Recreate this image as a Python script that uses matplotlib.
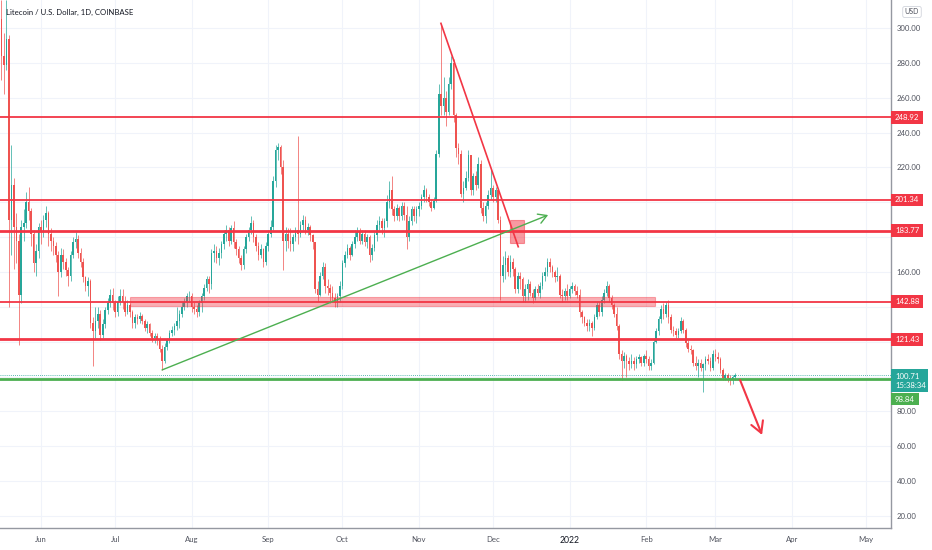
import matplotlib
matplotlib.use("Agg")
import numpy as np
import matplotlib.pyplot as plt
from matplotlib.patches import Rectangle
from matplotlib.transforms import blended_transform_factory

plt.rcParams['font.family'] = ['Lato', 'DejaVu Sans']

# days are counted from 1 Jun 2021; first candle is 16 May 2021
FIRST_DAY = -16
FIRST_OPEN = 305.0

# daily closes / highs / lows, one list per month
may_c = [284, 279, 294, 190, 210, 186, 178, 147, 186, 188, 200, 195, 182, 165, 172, 186]
may_h = [316, 297, 316, 296, 233, 214, 194, 182, 190, 196, 206, 209, 197, 184, 176, 188]
may_l = [270, 262, 276, 140, 170, 162, 165, 118, 142, 178, 185, 190, 175, 160, 158, 168]

jun_c = [183, 190, 194, 182, 178, 175, 170, 160, 170, 166, 161, 158, 170, 177, 179,
         171, 166, 157, 152, 155, 131, 126, 132, 136, 124, 130, 138, 142, 147, 142]
jun_h = [190, 193, 198, 195, 185, 180, 177, 172, 174, 173, 168, 163, 172, 180, 183,
         181, 174, 168, 158, 157, 156, 134, 140, 140, 138, 133, 140, 145, 150, 151]
jun_l = [176, 180, 186, 175, 172, 170, 166, 146, 157, 162, 158, 152, 155, 168, 174,
         168, 163, 154, 149, 146, 128, 106, 122, 128, 121, 122, 128, 136, 140, 138]

jul_c = [137, 143, 146, 143, 137, 141, 137, 131, 134, 133, 135, 132, 128, 130, 125, 122,
         123, 121, 116, 109, 117, 121, 125, 127, 129, 132, 136, 140, 143, 146, 146]
jul_h = [144, 146, 150, 150, 146, 144, 142, 138, 136, 136, 137, 136, 133, 132, 131, 127,
         125, 125, 123, 118, 119, 122, 127, 129, 131, 140, 138, 143, 145, 148, 149]
jul_l = [134, 135, 141, 139, 135, 136, 134, 128, 128, 130, 131, 130, 126, 125, 123, 120,
         119, 118, 114, 104, 108, 115, 119, 123, 124, 127, 128, 134, 138, 140, 143]

aug_c = [140, 139, 137, 142, 146, 151, 156, 153, 171, 172, 168, 171, 176, 182, 184, 178,
         185, 177, 173, 168, 164, 173, 180, 184, 188, 180, 175, 170, 173, 166, 175]
aug_h = [148, 143, 141, 144, 148, 153, 158, 158, 173, 176, 175, 174, 178, 184, 187, 186,
         187, 189, 179, 175, 170, 175, 182, 186, 192, 190, 182, 177, 176, 174, 177]
aug_l = [137, 136, 134, 135, 137, 144, 149, 148, 150, 166, 165, 164, 168, 173, 178, 175,
         176, 174, 170, 165, 161, 162, 171, 178, 182, 177, 172, 167, 168, 163, 164]

sep_c = [182, 186, 212, 230, 232, 220, 178, 182, 178, 176, 180, 184, 182, 187, 190,
         184, 186, 181, 177, 150, 147, 158, 163, 152, 151, 148, 145, 143, 146, 152]
sep_h = [184, 190, 215, 233, 234, 233, 224, 186, 185, 185, 182, 186, 238, 189, 193,
         192, 188, 187, 182, 177, 155, 160, 166, 165, 156, 153, 152, 148, 148, 155]
sep_l = [172, 180, 184, 209, 224, 216, 161, 172, 174, 172, 172, 178, 176, 180, 184,
         182, 181, 178, 173, 148, 143, 146, 156, 148, 147, 142, 143, 140, 140, 143]

oct_c = [165, 170, 174, 170, 176, 180, 183, 178, 182, 177, 180, 170, 174, 181, 187, 189,
         185, 189, 200, 207, 196, 192, 197, 192, 198, 193, 180, 189, 196, 192, 196]
oct_h = [167, 172, 176, 175, 178, 184, 186, 185, 184, 184, 182, 181, 176, 183, 190, 192,
         191, 191, 204, 212, 215, 198, 199, 198, 200, 200, 198, 192, 198, 198, 198]
oct_l = [150, 163, 168, 167, 169, 174, 178, 176, 176, 175, 174, 166, 167, 172, 178, 184,
         182, 180, 186, 197, 193, 189, 190, 189, 190, 190, 173, 178, 187, 189, 188]

nov_c = [198, 203, 207, 203, 200, 197, 201, 228, 262, 255, 260, 252, 268, 280, 250,
         231, 228, 205, 208, 214, 227, 207, 215, 210, 222, 197, 192, 198, 204, 208]
nov_h = [200, 205, 210, 208, 205, 202, 203, 230, 268, 302, 272, 264, 272, 284, 282,
         251, 234, 230, 212, 218, 230, 222, 217, 218, 226, 224, 200, 200, 207, 219]
nov_l = [192, 196, 200, 200, 198, 195, 196, 200, 226, 250, 250, 244, 250, 265, 246,
         226, 222, 203, 200, 207, 212, 204, 204, 207, 208, 194, 189, 188, 196, 202]

dec_c = [203, 207, 190, 158, 164, 168, 160, 166, 162, 150, 158, 156, 146, 150, 153, 148,
         145, 150, 148, 152, 158, 160, 166, 163, 160, 157, 158, 147, 146, 149, 146]
dec_h = [210, 209, 207, 192, 169, 172, 170, 170, 168, 163, 160, 160, 157, 153, 156, 155,
         150, 152, 153, 154, 160, 163, 168, 168, 164, 161, 163, 159, 150, 151, 153]
dec_l = [200, 200, 188, 144, 154, 156, 158, 157, 158, 148, 148, 150, 143, 143, 144, 146,
         142, 144, 146, 145, 150, 155, 158, 160, 157, 154, 155, 145, 143, 144, 144]

jan_c = [150, 152, 149, 147, 137, 134, 131, 129, 131, 128, 134, 141, 137, 144, 148, 152,
         145, 141, 136, 129, 113, 109, 112, 109, 107, 109, 107, 110, 111, 108, 112]
jan_h = [152, 154, 153, 152, 150, 138, 135, 133, 133, 132, 136, 143, 143, 146, 150, 155,
         153, 147, 142, 140, 130, 115, 114, 113, 111, 113, 111, 112, 113, 112, 113]
jan_l = [145, 148, 147, 145, 134, 131, 129, 126, 126, 123, 127, 133, 135, 135, 142, 146,
         143, 139, 134, 127, 110, 98, 105, 100, 104, 105, 104, 105, 108, 106, 106]

feb_c = [110, 106, 108, 120, 126, 133, 139, 136, 141, 134, 127, 126, 124, 126,
         132, 127, 119, 116, 115, 108, 106, 108, 105, 107, 110, 109, 105, 113]
feb_h = [115, 112, 110, 122, 128, 135, 141, 142, 143, 144, 136, 129, 128, 128,
         134, 133, 128, 121, 118, 116, 112, 110, 110, 108, 112, 113, 111, 115]
feb_l = [108, 104, 104, 107, 119, 124, 131, 133, 134, 131, 125, 123, 122, 122,
         125, 125, 117, 114, 113, 106, 104, 100, 103, 91, 104, 107, 103, 104]

mar_c = [111, 110, 104, 99, 101, 99, 98, 100, 100.71]
mar_h = [116, 114, 111, 105, 102, 102, 101, 101, 102]
mar_l = [109, 108, 102, 98, 98, 97, 95, 96, 98]

# drawn levels
levels = [248.92, 201.34, 183.77, 142.88, 121.43]
level_widths = [1.3, 1.3, 2.0, 1.3, 2.0]
support = 98.84
last_price = 100.71
last_time = "15:38:34"

price_ticks = list(range(20, 301, 20))
hidden_ticks = [100, 120, 140, 180, 200]  # covered by the level labels
month_days = [0, 30, 61, 92, 122, 153, 183, 214, 245, 273, 304, 334]
month_names = ["Jun", "Jul", "Aug", "Sep", "Oct", "Nov", "Dec", "2022", "Feb", "Mar", "Apr", "May"]

closes = np.array(may_c + jun_c + jul_c + aug_c + sep_c + oct_c + nov_c + dec_c + jan_c + feb_c + mar_c, float)
highs = np.array(may_h + jun_h + jul_h + aug_h + sep_h + oct_h + nov_h + dec_h + jan_h + feb_h + mar_h, float)
lows = np.array(may_l + jun_l + jul_l + aug_l + sep_l + oct_l + nov_l + dec_l + jan_l + feb_l + mar_l, float)
opens = np.concatenate([[FIRST_OPEN], closes[:-1]])
days = np.arange(FIRST_DAY, FIRST_DAY + len(closes))

UP = '#26a69a'
DOWN = '#ef5350'
RED = '#f23645'
GREEN = '#4caf50'
FS = 5.6

fig = plt.figure(figsize=(9.32, 5.5), dpi=100)
ax = fig.add_axes([0, 22 / 550, 891 / 932, 528 / 550])
ax.set_xlim(-16.6, 344.1)
ax.set_ylim(13.1, 316.1)

# grid
ax.set_yticks(price_ticks)
ax.set_yticklabels(["" if p in hidden_ticks else "%.2f" % p for p in price_ticks])
ax.set_xticks(month_days)
ax.set_xticklabels(month_names)
ax.grid(True, color='#f0f3fa', lw=0.8)
ax.set_axisbelow(True)
ax.yaxis.tick_right()
ax.tick_params(axis='both', length=0, labelsize=FS, labelcolor='#50535e')
ax.tick_params(axis='y', pad=4)
ax.tick_params(axis='x', pad=6)
for lab in ax.get_xticklabels():
    if lab.get_text() == "2022":
        lab.set_color('#131722')
        lab.set_fontsize(6.2)
for s in ['left', 'top']:
    ax.spines[s].set_visible(False)
for s in ['right', 'bottom']:
    ax.spines[s].set_color('#9598a1')
    ax.spines[s].set_linewidth(1.0)

# candles
up = closes >= opens
colors = np.where(up, UP, DOWN)
ax.vlines(days, lows, highs, colors=colors, lw=0.5, zorder=2)
body_lo = np.minimum(opens, closes)
body_h = np.maximum(np.abs(closes - opens), 0.4)
ax.bar(days, body_h, bottom=body_lo, width=0.65, color=colors, linewidth=0, zorder=3)

# horizontal levels
for lv, lw in zip(levels, level_widths):
    ax.axhline(lv, color=RED, lw=lw, zorder=4)
ax.axhline(support, color=GREEN, lw=2.0, zorder=4)
ax.axhline(last_price, color=UP, lw=0.6, ls=(0, (1, 1.5)), zorder=4)

# supply / demand zone
ax.add_patch(Rectangle((36, 140.5), 212.6, 5.0, fc=RED, alpha=0.4, ec=RED, lw=0.8, zorder=4))
ax.add_patch(Rectangle((189.9, 176.5), 5.7, 13.4, fc=RED, alpha=0.5, ec=RED, lw=0.8, zorder=5))

# trend lines
ax.plot([161.9, 193.2], [302.7, 174.5], color=RED, lw=1.2, zorder=5)
ax.annotate('', xy=(205.3, 192.7), xytext=(49, 103.8),
            arrowprops=dict(arrowstyle='->,head_length=0.6,head_width=0.35', color=GREEN,
                            lw=1.0, shrinkA=0, shrinkB=0), zorder=5)
ax.annotate('', xy=(291.9, 66.5), xytext=(283, 98),
            arrowprops=dict(arrowstyle='->,head_length=0.8,head_width=0.45', color=RED,
                            lw=1.5, shrinkA=0, shrinkB=0), zorder=5)

# price labels on the scale (fixed-width boxes like the TradingView scale)
tr = blended_transform_factory(ax.transAxes, ax.transData)


def scale_label(y0, y1, text, color, ty, width_px=32):
    ax.add_patch(Rectangle((1.0, y0), width_px / 891, y1 - y0, transform=tr, fc=color, ec='none',
                           clip_on=False, zorder=6))
    ax.text(1.0 + 4 / 891, ty, text, transform=tr, fontsize=FS, color='white', va='center', ha='left',
            linespacing=1.35, clip_on=False, zorder=7)


for lv in levels:
    scale_label(lv - 3.7, lv + 3.7, "%.2f" % lv, RED, lv)
scale_label(91.2, 104.4, "%.2f\n%s" % (last_price, last_time), UP, 97.6, width_px=37)
scale_label(83.7, 90.6, "%.2f" % support, GREEN, 87.1, width_px=28)

fig.text(6 / 932, 1 - 12 / 550, "Litecoin / U.S. Dollar, 1D, COINBASE", fontsize=5.6, color='#131722', va='center')
fig.text(912 / 932, 1 - 12 / 550, "USD", fontsize=5, color='#50535e', va='center', ha='center',
         bbox=dict(boxstyle='round,pad=0.3', fc='white', ec='#d1d4dc', lw=0.6))

fig.savefig("out.png", dpi=100)
